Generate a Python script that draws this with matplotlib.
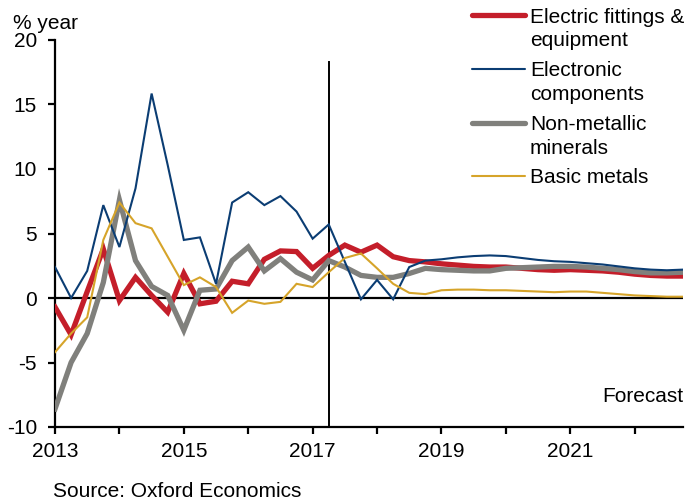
import numpy as np
import matplotlib
matplotlib.use("Agg")
import matplotlib.pyplot as plt
from matplotlib.lines import Line2D

plt.rcParams['font.family'] = ['Liberation Sans', 'DejaVu Sans']
plt.rcParams['axes.unicode_minus'] = False

# quarterly data 2013Q1 - 2022Q4, % year
quarters = 2013 + np.arange(40) / 4

electric = [-0.7, -2.85, 0.5, 3.8, -0.2, 1.6, 0.2, -1.1, 1.9, -0.45,
            -0.25, 1.3, 1.1, 3.0, 3.65, 3.6, 2.3, 3.3, 4.1, 3.55,
            4.1, 3.2, 2.9, 2.8, 2.65, 2.55, 2.45, 2.4, 2.4, 2.3,
            2.2, 2.15, 2.2, 2.15, 2.1, 2.0, 1.85, 1.75, 1.7, 1.7]
electronic = [2.4, 0.0, 2.1, 7.2, 3.95, 8.5, 15.85, 10.3, 4.5, 4.7,
              1.1, 7.4, 8.2, 7.2, 7.9, 6.7, 4.6, 5.7, 2.8, -0.1,
              1.4, -0.1, 2.4, 2.9, 3.0, 3.15, 3.25, 3.3, 3.25, 3.1,
              2.95, 2.85, 2.8, 2.7, 2.6, 2.45, 2.3, 2.2, 2.15, 2.2]
nonmetallic = [-8.6, -5.0, -2.75, 1.2, 7.6, 2.9, 0.9, 0.2, -2.5, 0.6,
               0.7, 2.9, 3.95, 2.1, 3.05, 2.0, 1.4, 2.9, 2.4, 1.75,
               1.6, 1.6, 1.9, 2.3, 2.2, 2.15, 2.1, 2.1, 2.3, 2.35,
               2.4, 2.45, 2.45, 2.4, 2.3, 2.2, 2.05, 1.95, 1.95, 2.0]
basic = [-4.2, -2.75, -1.5, 4.5, 7.4, 5.8, 5.4, 3.2, 1.0, 1.6,
         0.85, -1.15, -0.2, -0.45, -0.3, 1.1, 0.85, 2.0, 3.1, 3.45,
         2.3, 1.1, 0.4, 0.3, 0.6, 0.65, 0.65, 0.6, 0.6, 0.55,
         0.5, 0.45, 0.5, 0.5, 0.4, 0.3, 0.2, 0.15, 0.1, 0.1]

labels = ["Electric fittings &\nequipment", "Electronic\ncomponents",
          "Non-metallic\nminerals", "Basic metals"]
colors = ['#C41E2A', '#0B3D73', '#80807C', '#D6A42A']
widths = [3.8, 1.5, 3.8, 1.5]
series = [electric, electronic, nonmetallic, basic]
zorders = [3, 5, 4, 6]

year_ticks = np.arange(2013, 2023)
forecast_start = 2017.25

fs = 15
fig = plt.figure(figsize=(6.9, 5.04), dpi=100)
ax = fig.add_axes([55/690, 1 - 427/504, 628/690, 387/504])

for vals, c, w, z in zip(series, colors, widths, zorders):
    ax.plot(quarters, vals, color=c, lw=w, zorder=z, solid_joinstyle='miter')

# zero line and forecast divider
ax.axhline(0, color='black', lw=1.6, zorder=2)
ax.plot([forecast_start, forecast_start], [-10, 18.3], color='black', lw=1.4, zorder=2)

ax.set_xlim(2013, 2022.75)
ax.set_ylim(-10, 20)
ax.set_yticks(np.arange(-10, 21, 5))
ax.set_xticks(year_ticks)
ax.set_xticklabels([str(y) if y % 2 == 1 else '' for y in year_ticks])
ax.tick_params(axis='both', direction='out', width=1.6, length=5,
               labelsize=fs, colors='black')
ax.tick_params(axis='y', pad=8)
ax.tick_params(axis='x', pad=6)
for s in ['top', 'right']:
    ax.spines[s].set_visible(False)
for s in ['left', 'bottom']:
    ax.spines[s].set_linewidth(1.6)

ax.text(2022.75, -8.1, "Forecast", ha='right', va='baseline', fontsize=fs)
fig.text(12.7/690, 1 - 29/504, "% year", ha='left', va='baseline', fontsize=fs)
fig.text(53/690, 1 - 497/504, "Source: Oxford Economics", ha='left', va='baseline', fontsize=fs)

# legend drawn by hand so the swatch lines up with the first text line
handle_y = [15, 69, 122.7, 175.7]
text_base = [23, 76, 130, 183]
for lab, c, w, hy, tb in zip(labels, colors, widths, handle_y, text_base):
    fig.add_artist(Line2D([472/690, 525/690], [1 - hy/504, 1 - hy/504],
                          color=c, lw=w, solid_capstyle='round'))
    for i, line in enumerate(lab.split('\n')):
        fig.text(530/690, 1 - (tb + 23.5*i)/504, line, ha='left', va='baseline', fontsize=fs)

fig.savefig("out.png", dpi=100)
